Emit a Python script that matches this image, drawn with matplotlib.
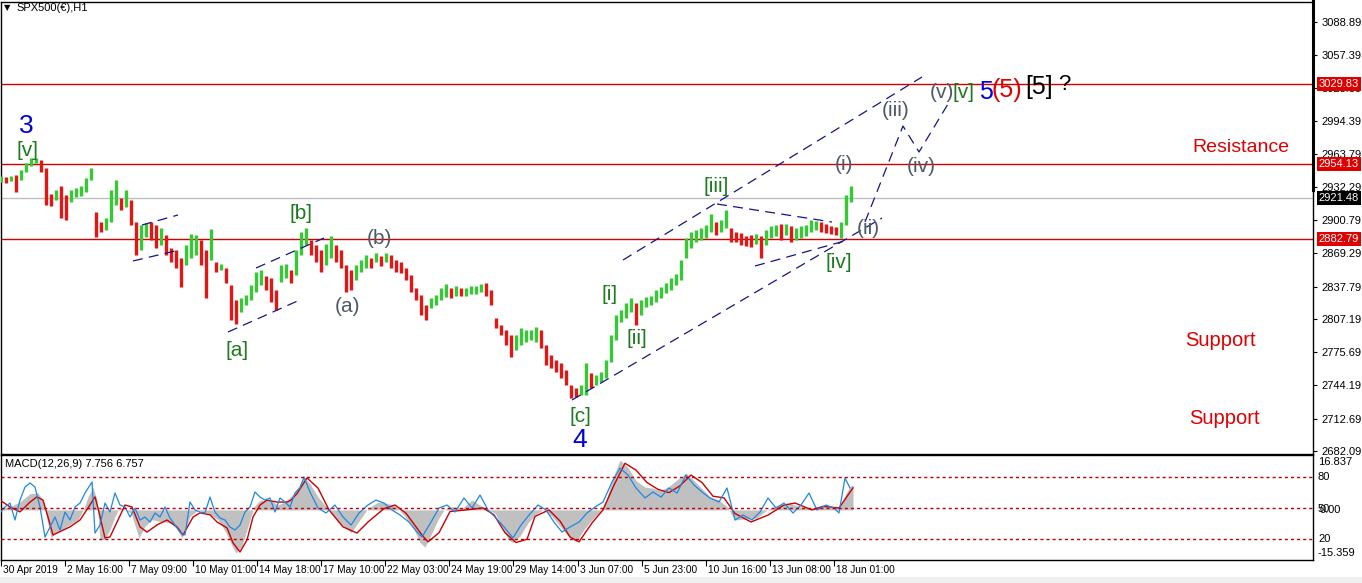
import numpy as np
import matplotlib
matplotlib.use("Agg")
import matplotlib.pyplot as plt
from matplotlib.lines import Line2D
from matplotlib.patches import Rectangle

plt.rcParams['font.family'] = ['Liberation Sans', 'DejaVu Sans']

# ---------------- data ----------------
title = "SPX500(€),H1"
macd_title = "MACD(12,26,9) 7.756 6.757"

# price bars (one bar per 5 hourly bars), high / low
highs = [2942.7, 2941.7, 2942.7, 2943.6, 2948.3, 2955.0, 2959.7, 2959.7, 2957.8, 2950.2,
         2925.6, 2929.4, 2933.2, 2924.6, 2929.4, 2931.3, 2933.2, 2940.8, 2950.2, 2908.5,
         2899.0, 2902.8, 2929.4, 2938.9, 2921.8, 2929.4, 2919.9, 2899.0, 2896.2, 2898.1,
         2899.0, 2896.2, 2893.4, 2886.7, 2874.4, 2872.5, 2864.9, 2877.2, 2887.7, 2886.7,
         2882.0, 2872.5, 2892.4, 2861.1, 2859.2, 2855.4, 2839.3, 2825.1, 2827.0, 2829.8,
         2839.3, 2851.6, 2853.5, 2847.9, 2846.0, 2834.6, 2858.3, 2859.2, 2853.5, 2872.5,
         2889.6, 2893.4, 2882.0, 2877.2, 2872.5, 2878.2, 2885.8, 2877.2, 2872.5, 2858.3,
         2853.5, 2858.3, 2863.0, 2867.8, 2864.9, 2869.7, 2866.8, 2869.7, 2867.8, 2863.0,
         2861.1, 2855.4, 2848.8, 2836.5, 2829.8, 2820.4, 2827.0, 2829.8, 2836.5, 2840.3,
         2836.5, 2838.4, 2836.5, 2836.5, 2838.4, 2838.4, 2840.3, 2841.2, 2834.6, 2808.0,
         2801.4, 2796.7, 2791.9, 2791.9, 2798.5, 2796.7, 2796.7, 2799.5, 2796.7, 2782.4,
         2773.0, 2768.2, 2765.4, 2758.8, 2744.6, 2741.7, 2744.6, 2765.4, 2755.9, 2754.0,
         2756.9, 2768.2, 2791.9, 2810.9, 2815.6, 2822.3, 2827.0, 2822.3, 2825.1, 2827.9,
         2828.9, 2834.6, 2837.4, 2841.2, 2846.0, 2849.7, 2863.0, 2883.9, 2889.6, 2891.5,
         2893.4, 2896.2, 2906.6, 2899.0, 2900.9, 2910.4, 2893.4, 2889.6, 2888.6, 2885.8,
         2886.7, 2887.7, 2885.8, 2891.5, 2895.2, 2896.2, 2897.1, 2897.1, 2895.2, 2893.4,
         2895.2, 2896.2, 2900.9, 2900.0, 2899.0, 2897.1, 2895.2, 2894.3, 2899.0, 2924.6,
         2933.2]
lows = [2937.0, 2936.0, 2937.9, 2927.5, 2938.9, 2946.4, 2952.1, 2955.0, 2946.4, 2915.2,
        2914.2, 2919.9, 2902.8, 2900.9, 2918.0, 2922.7, 2923.7, 2927.5, 2938.9, 2884.8,
        2889.6, 2891.5, 2899.0, 2915.2, 2910.4, 2913.3, 2896.2, 2867.8, 2872.5, 2884.8,
        2882.0, 2874.4, 2877.2, 2867.8, 2861.1, 2855.4, 2837.4, 2858.3, 2864.9, 2867.8,
        2858.3, 2827.0, 2863.0, 2851.6, 2853.5, 2841.2, 2806.1, 2802.3, 2813.7, 2820.4,
        2825.1, 2832.7, 2839.3, 2834.6, 2823.2, 2815.6, 2842.2, 2846.0, 2841.2, 2848.8,
        2867.8, 2877.2, 2867.8, 2861.1, 2851.6, 2858.3, 2864.9, 2861.1, 2855.4, 2832.7,
        2834.6, 2844.1, 2851.6, 2855.4, 2855.4, 2861.1, 2857.3, 2861.1, 2855.4, 2851.6,
        2850.7, 2844.1, 2832.7, 2825.1, 2810.9, 2806.1, 2817.5, 2820.4, 2825.1, 2827.9,
        2827.0, 2828.9, 2828.9, 2828.9, 2830.8, 2830.8, 2832.7, 2828.9, 2820.4, 2798.5,
        2791.9, 2782.4, 2771.1, 2777.7, 2782.4, 2785.3, 2787.2, 2785.3, 2779.6, 2763.5,
        2760.6, 2756.9, 2751.2, 2744.6, 2732.2, 2733.2, 2735.1, 2735.1, 2741.7, 2744.6,
        2747.4, 2751.2, 2766.3, 2787.2, 2804.2, 2808.0, 2813.7, 2801.4, 2810.9, 2818.5,
        2820.4, 2823.2, 2827.0, 2831.7, 2834.6, 2839.3, 2844.1, 2864.9, 2874.4, 2880.1,
        2882.0, 2883.9, 2889.6, 2886.7, 2889.6, 2893.4, 2880.1, 2880.1, 2877.2, 2876.3,
        2875.3, 2878.2, 2864.9, 2877.2, 2883.9, 2885.8, 2882.0, 2886.7, 2880.1, 2882.0,
        2883.9, 2885.8, 2889.6, 2891.5, 2889.6, 2888.6, 2887.7, 2886.7, 2883.9, 2896.2,
        2918.0]

price_ticks = [3088.89, 3057.39, 3025.89, 2994.39, 2963.79, 2932.29, 2900.79,
               2869.29, 2837.79, 2807.19, 2775.69, 2744.19, 2712.69, 2682.09]
sr_levels = [3029.83, 2954.13, 2882.79]
last_price = 2921.48

date_labels = ["30 Apr 2019", "2 May 16:00", "7 May 09:00", "10 May 01:00", "14 May 18:00",
               "17 May 10:00", "22 May 03:00", "24 May 19:00", "29 May 14:00", "3 Jun 07:00",
               "5 Jun 23:00", "10 Jun 16:00", "13 Jun 08:00", "18 Jun 01:00"]
date_bars = [1, 65, 129, 193, 257, 321, 385, 449, 513, 578, 642, 706, 770, 834]

# MACD main (histogram)
macd_bar = [0, 10, 20, 30, 38, 43, 47, 51, 55, 62,
            70, 78, 84, 88, 93, 97, 100, 105, 110, 115,
            120, 125, 131, 139, 145, 152, 160, 170, 176, 182,
            190, 198, 208, 218, 226, 232, 236, 242, 248, 254,
            260, 270, 278, 285, 292, 298, 304, 310, 318, 329,
            340, 351, 360, 368, 378, 388, 396, 405, 414, 420,
            425, 432, 438, 444, 452, 462, 472, 480, 488, 495,
            502, 508, 513, 520, 528, 535, 543, 552, 560, 568,
            576, 584, 592, 600, 606, 612, 620, 628, 636, 645,
            652, 660, 668, 676, 686, 694, 702, 710, 719, 727,
            735, 745, 757, 767, 778, 790, 800, 812, 822, 832,
            840, 846, 850, 853]
macd_main = [0.5, 1, 2.5, 5, 5.2, 3, -3, -8.6, -7, -6,
             -4.5, -3, 0.5, 4, 7, 3, -9.2, -9, -6, -2,
             1, 0, -1, -8.6, -5, -3, -3.5, -4, -5.5, -8.6,
             -2, 0, -1, -3, -7, -11, -13.2, -11, -5, 1,
             3, 3, 1.5, 2.5, 4.5, 7, 10.1, 8, 4, 0,
             -4, -7, -3, 0.5, 2.4, 2, 1, -2, -6, -10,
             -11.4, -7, -3, 0, 1, 0.5, 3, 1.5, 0, -1,
             -5, -9, -10.1, -8, -4, -1.5, 0, -2, -5, -8,
             -9.8, -6, -3, -0.5, 3, 9, 15.3, 13, 9, 7,
             6.7, 6, 7, 9, 11.3, 9, 6.5, 4, 3, 1,
             -3.1, -2.8, -2.5, 0, 1.5, 2, 1, 0.5, 1.2, 0.8,
             1, 5, 7.2, 7.756]

# MACD signal
sig_bar = [0, 10, 20, 30, 37, 43, 48, 53, 63, 70,
           80, 88, 95, 98, 105, 110, 118, 125, 132, 140,
           147, 157, 167, 177, 183, 193, 200, 210, 217, 227,
           233, 240, 247, 253, 260, 267, 277, 287, 291, 297,
           307, 318, 329, 343, 357, 368, 384, 395, 406, 422,
           428, 439, 450, 466, 483, 494, 505, 516, 527, 535,
           549, 560, 570, 579, 592, 603, 614, 625, 636, 647,
           658, 669, 680, 691, 702, 713, 724, 735, 751, 768,
           784, 795, 812, 823, 839, 853]
sig_val = [3.0, 0.9, -0.6, 2.4, 4.0, 3.0, -2.2, -7.7, -6.2, -5.2,
           -3.1, 0.6, 4.0, 0.6, -8.6, -8.3, -3.1, 1.5, 0.9, -5.2,
           -6.8, -4.6, -3.1, -5.2, -7.7, -2.2, -0.9, -1.5, -3.7, -5.5,
           -10.1, -12.9, -9.2, -2.2, 1.5, 3.0, 2.4, 2.4, 3.0, 5.0,
           9.8, 6.7, 0, -5.2, -7.1, -3.7, 0.4, 1.5, -1, -7.7,
           -9.8, -7, -0.5, 0, 0.6, -1.5, -7, -10, -9, -2,
           0, -3.4, -8.3, -9.8, -4, 0, 7.6, 14.3, 12.2, 8.4,
           6.3, 5.3, 7.4, 10.7, 8.4, 4.2, 3.7, -1.1, -3.7, -1.6,
           1.5, 2.1, 0, 1.1, 0.6, 6.757]

# blue oscillator (0-100 scale, levels 20/50/80)
osc_bar = [0, 5, 10, 15, 20, 25, 30, 35, 40, 45,
           50, 55, 60, 65, 70, 75, 80, 85, 92, 95,
           100, 105, 110, 115, 120, 125, 130, 135, 140, 145,
           150, 155, 160, 165, 170, 175, 180, 185, 190, 195,
           200, 205, 210, 215, 220, 225, 230, 235, 240, 245,
           250, 255, 260, 265, 270, 275, 280, 285, 290, 295,
           300, 304, 310, 318, 326, 335, 343, 351, 359, 368,
           376, 384, 392, 400, 409, 417, 422, 431, 439, 447,
           455, 464, 472, 480, 488, 496, 505, 513, 521, 529,
           538, 546, 554, 562, 570, 579, 587, 595, 603, 612,
           620, 628, 636, 645, 653, 661, 669, 677, 686, 694,
           702, 710, 719, 727, 735, 743, 752, 760, 768, 776,
           784, 793, 801, 809, 817, 826, 834, 839, 845, 850]
osc_val = [45.2, 51.0, 54.8, 38.4, 57.7, 70.3, 74.2, 70.3, 51.0, 21.9,
           31.6, 41.3, 28.7, 46.1, 38.4, 51.0, 54.8, 64.5, 75.2, 25.8,
           33.5, 54.8, 46.1, 64.5, 52.9, 51.0, 41.3, 50.0, 38.4, 41.3,
           36.4, 45.2, 41.3, 51.0, 40.3, 33.5, 26.8, 23.9, 55.8, 48.1,
           46.1, 45.2, 60.6, 46.1, 40.3, 38.4, 31.6, 28.7, 33.5, 46.1,
           51.0, 65.5, 60.6, 57.7, 59.7, 46.1, 59.7, 55.8, 51.0, 64.5,
           69.4, 80.0, 65.5, 50.0, 45.2, 52.9, 41.3, 33.5, 45.2, 52.9,
           57.7, 54.8, 48.1, 43.2, 36.4, 26.8, 21.9, 36.4, 50.0, 52.9,
           46.1, 59.7, 50.0, 62.6, 48.1, 40.3, 30.6, 21.0, 33.5, 43.2,
           52.9, 48.1, 36.4, 26.8, 31.6, 36.4, 45.2, 51.0, 55.8, 75.2,
           88.7, 81.9, 69.4, 59.7, 65.5, 60.6, 69.4, 64.5, 81.9, 72.3,
           65.5, 59.7, 55.8, 69.4, 38.4, 43.2, 38.4, 46.1, 59.7, 50.0,
           54.8, 45.2, 52.9, 64.5, 48.1, 52.9, 50.0, 45.2, 79.0, 69.4]
osc_levels = [80, 50, 20]

# ---------------- layout ----------------
W, H = 1362, 583
X_RIGHT = 1313
P_REF_Y, P_REF, P_PER_PX = 21.7, 3088.89, 0.948
MAIN_TOP, MAIN_BOT = 2, 454
MACD_TOP, MACD_BOT = 455, 560
MACD_MAX, MACD_MIN = 16.837, -15.359


def py(y):
    return P_REF - (y - P_REF_Y) * P_PER_PX


fig = plt.figure(figsize=(W / 100, H / 100), dpi=100)
fig.patch.set_facecolor('white')
fig.patches.append(Rectangle((0, 0), 1, 6 / H, transform=fig.transFigure,
                             facecolor='#F0F0F0', edgecolor='none', zorder=0))

ax = fig.add_axes([1 / W, (H - MAIN_BOT) / H, (X_RIGHT - 1) / W, (MAIN_BOT - MAIN_TOP) / H])
ax.set_xlim(1, X_RIGHT)
ax.set_ylim(py(MAIN_BOT), py(MAIN_TOP))

# candles (vertical high-low bars)
hi = np.array(highs)
lo = np.array(lows)
xs = 1 + 5 * np.arange(len(hi))
mid = (hi + lo) / 2
up = np.concatenate([[True], mid[1:] >= mid[:-1]])
cols = np.where(up, '#35C935', '#E31515')
ax.vlines(xs, lo, hi, colors=cols, linewidth=2.4, zorder=3)

# horizontal levels
for lv in sr_levels:
    ax.axhline(lv, color='#D00000', lw=1.0, zorder=2)
ax.axhline(last_price, color='#C0C0C0', lw=1.0, zorder=1)

# dashed wave lines
dash_kw = dict(color='#14148C', lw=0.9, dashes=(8, 5), zorder=4)
segs = [
    [(142, 225), (178, 215)],
    [(133, 261), (175, 251)],
    [(228, 332), (302, 299)],
    [(256, 268), (324, 238)],
    [(572, 400), (882, 218)],
    [(623, 260), (922, 77)],
    [(717, 204), (832, 222)],
    [(755, 266), (848, 240)],
    [(865, 222), (903, 126), (919, 152), (948, 104)],
]
for s in segs:
    ax.plot([p[0] for p in s], [py(p[1]) for p in s], **dash_kw)

# wave labels
GREEN = '#1E7A1E'
GRAY = '#4E5A66'
def lab(x, y, t, c, fs=15):
    ax.text(x, py(y), t, color=c, fontsize=fs, ha='center', va='center', zorder=6)

lab(26, 126, '3', '#0000DD', 19)
lab(28, 151, '[v]', GREEN)
lab(301, 213, '[b]', GREEN)
lab(379, 238, '(b)', GRAY)
lab(347, 306, '(a)', GRAY)
lab(237, 350, '[a]', GREEN)
lab(580, 417, '[c]', GREEN)
lab(580, 440, '4', '#0000DD', 19)
lab(610, 295, '[i]', GREEN)
lab(637, 338, '[ii]', GREEN)
lab(716, 187, '[iii]', GREEN)
lab(839, 263, '[iv]', GREEN)
lab(844, 165, '(i)', GRAY)
lab(868, 228, '(ii)', GRAY)
lab(896, 110, '(iii)', GRAY)
lab(921, 167, '(iv)', GRAY)
lab(942, 92, '(v)', GRAY)
lab(964, 93, '[v]', GREEN)
lab(986, 92, '5', '#0000DD', 18)
lab(1007, 90, '(5)', '#E00000', 18)
lab(1039, 87, '[5]', '#000000', 18)
lab(1064, 85, '?', '#000000', 16)
lab(1241, 148, 'Resistance', '#E00000', 14)
lab(1220, 341, 'Support', '#E00000', 14.5)
lab(1224, 418, 'Support', '#E00000', 14.5)

# axes styling
ax.set_xticks([])
ax.yaxis.tick_right()
ax.set_yticks(price_ticks)
ax.set_yticklabels([f"{v:.2f}" for v in price_ticks])
ax.tick_params(axis='y', direction='out', length=3, width=0.8, pad=3, labelsize=8)
for sp in ax.spines.values():
    sp.set_linewidth(1.0)

ytr = ax.get_yaxis_transform()
for lv in sr_levels:
    ax.text(1.0045, lv, f"{lv:.2f}", transform=ytr, color='white', fontsize=8,
            ha='left', va='center', zorder=10, clip_on=False,
            bbox=dict(boxstyle='square,pad=0.18', fc='#E00000', ec='none'))
ax.text(1.0045, last_price, f"{last_price:.2f}", transform=ytr, color='white', fontsize=8,
        ha='left', va='center', zorder=10, clip_on=False,
        bbox=dict(boxstyle='square,pad=0.18', fc='black', ec='none'))

# thick marker on the axis top
fig.add_artist(Line2D([X_RIGHT / W, X_RIGHT / W], [1, 1 - 190 / H], color='black',
                      lw=2.2, transform=fig.transFigure))

# title
fig.text(4 / W, 1 - 8 / H, '▼', fontsize=6, va='center', ha='left', family='DejaVu Sans')
fig.text(16 / W, 1 - 8 / H, title, fontsize=8, va='center', ha='left')

# ---------------- MACD panel ----------------
ax2 = fig.add_axes([1 / W, (H - MACD_BOT) / H, (X_RIGHT - 1) / W, (MACD_BOT - MACD_TOP) / H])
ax2.set_xlim(1, X_RIGHT)
ax2.set_ylim(MACD_MIN, MACD_MAX)
ax2.fill_between(macd_bar, macd_main, 0, color='#C0C0C0', lw=0, zorder=1)
ax2.plot(sig_bar, sig_val, color='#CC0000', lw=1.0, zorder=3)

ax3 = ax2.twinx()
ax3.set_ylim(-0.3, 101.3)
ax3.plot(osc_bar, osc_val, color='#1E88E5', lw=0.9, zorder=2)
for lv in osc_levels:
    ax3.axhline(lv, color='#C00000', lw=1.0, linestyle=(0, (2.2, 2.2)))
ax3.set_yticks([])
ax3.set_xlim(1, X_RIGHT)
for sp in ax3.spines.values():
    sp.set_visible(False)

ax2.set_yticks([])
ax2.set_xticks(date_bars)
ax2.set_xticklabels([])
ax2.tick_params(axis='x', direction='out', length=4, width=0.8)
for sp in ax2.spines.values():
    sp.set_linewidth(1.0)

xtr = ax2.get_xaxis_transform()
for b, t in zip(date_bars, date_labels):
    ax2.text(b + 2, -0.095, t, transform=xtr, fontsize=7.3, ha='left', va='center',
             clip_on=False)

fig.text(5 / W, 1 - 464 / H, macd_title, fontsize=8, ha='left', va='center')
rx = 1318 / W
fig.text(rx, 1 - 462 / H, '16.837', fontsize=8, ha='left', va='center')
fig.text(rx, 1 - 477 / H, '80', fontsize=8, ha='left', va='center')
fig.text(rx, 1 - 509 / H, '50', fontsize=8, ha='left', va='center')
fig.text(rx + 2 / W, 1 - 510 / H, '0.00', fontsize=8, ha='left', va='center')
fig.text(rx, 1 - 539 / H, '20', fontsize=8, ha='left', va='center')
fig.text(rx, 1 - 553 / H, '-15.359', fontsize=8, ha='left', va='center')

fig.savefig('out.png', dpi=100)
